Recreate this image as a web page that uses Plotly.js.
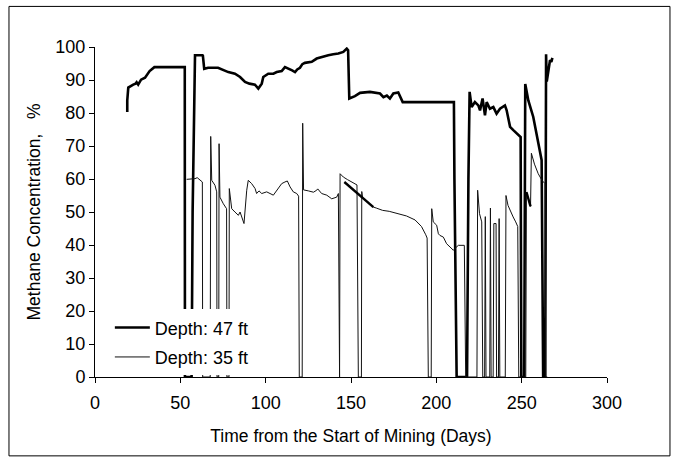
<!DOCTYPE html>
<html>
<head>
<meta charset="utf-8">
<script src="https://cdn.plot.ly/plotly-3.0.1.min.js"></script>
<style>html,body{margin:0;padding:0;background:#fff;}#chart{width:677px;height:462px;}</style>
</head>
<body>
<div id="chart"></div>
<script>
// Depth: 47 ft
var days47 = [18.9,18.9,19.5,20.5,22.4,23.8,24.4,25.3,27.0,29.3,30.9,32.0,34.8,52.6,52.7,56.6,57.2,58.6,62.9,63.2,64.0,66.3,72.1,75.2,78.1,82.0,85.0,87.9,90.5,93.7,95.7,97.7,98.6,101.5,104.5,106.5,109.4,111.3,112.5,114.3,115.5,117.2,118.5,120.1,121.5,123.0,127.0,129.9,132.8,136.7,139.6,142.6,145.5,147.5,148.3,148.5,149.0,152.3,155.3,161.1,165.0,167.0,169.0,171.0,172.8,174.8,177.7,180.3,210.3,210.6,211.9,218.0,218.8,219.5,220.7,222.6,224.6,225.6,227.1,228.5,229.5,231.4,233.4,235.3,237.3,240.2,241.2,243.2,245.1,247.1,248.6,249.4,249.8,251.5,252.1,253.9,256.8,258.8,260.7,261.7,262.6,263.8,264.3,264.7,266.6,267.4,268.0];
var ch4_47 = [80.3,83.8,87.7,88.1,88.6,88.9,89.3,88.6,90.1,90.7,91.9,92.7,93.9,93.9,0,0,50,97.5,97.5,97.4,93.4,93.7,93.7,93.1,92.4,91.9,90.9,89.4,88.9,88.6,87.4,88.9,90.9,91.9,91.9,92.4,92.7,93.9,93.6,93.4,92.9,92.4,93.2,93.7,94.8,95.2,95.5,96.5,97.0,97.5,97.8,98.0,98.5,99.5,99.0,88.0,84.4,85.1,86.1,86.4,86.1,85.9,84.8,85.3,84.4,85.9,86.2,83.3,83.3,60,0,0,60,86.4,81.8,83.3,82.3,80.8,84.4,79.3,83.3,81.3,81.8,79.8,81.3,82.3,80.8,75.8,74.8,73.8,73.2,72.7,0,0,88.8,83.8,78.8,73.8,68.7,65.7,0,0,97.8,89.5,96.0,95.5,96.7];

// Depth: 35 ft
var days35 = [53.7,57.6,58.6,59.9,61.5,62.9,63.1,67.5,67.8,68.4,70.3,71.3,71.5,72.5,72.7,73.2,75.2,77.1,77.3,78.5,78.7,80.1,82.0,84.0,85.0,85.9,87.3,88.9,89.8,91.8,93.8,94.7,96.1,97.7,100.6,104.5,107.4,109.4,111.3,112.7,114.3,116.2,118.2,119.3,119.7,121.4,121.7,122.2,125.0,128.0,129.9,130.5,132.8,135.8,138.7,141.6,142.6,143.0,143.3,143.6,145.5,148.0,150.5,152.0,153.5,154.3,156.1,156.3,156.8,160.0,163.1,164.8,168.5,172.4,177.4,182.5,187.5,191.3,193.8,194.6,195.3,197.0,197.3,198.2,200.2,201.2,202.1,204.1,206.0,208.0,210.0,211.0,212.9,216.4,217.2,223.8,224.2,225.3,226.6,227.2,228.3,228.7,229.1,231.3,231.7,232.1,233.3,233.7,235.0,235.3,236.4,236.8,237.2,240.4,240.8,242.0,243.5,245.0,246.5,247.7,248.3,252.4,252.8,255.2,255.7,257.5,259.7,262.0,263.7,264.1,265.0];
var ch4_35 = [59.9,59.9,60.1,60.4,59.8,59.1,0,0,72.9,59.6,58.1,56.1,0,0,70.7,54.5,52.5,51.0,0,0,57.1,51.0,50.0,49.0,50.0,48.5,46.5,56.6,59.6,58.6,57.1,55.6,56.4,55.6,56.1,55.1,57.1,58.6,59.1,59.4,57.6,56.1,55.6,54.8,0,0,76.9,56.7,56.4,56.0,56.6,57.0,55.6,55.1,54.0,54.5,55.6,0,0,61.6,60.6,59.8,59.0,58.6,58.2,0,0,56.2,54.3,52.9,51.5,51.2,50.5,50.2,49.6,48.8,47.6,45.6,43.1,42.1,0,0,51.0,47.0,46.0,43.4,42.9,42.4,40.4,39.4,38.4,39.0,39.9,39.9,0,0,56.6,49.5,47.0,0,0,48.6,0,0,51.2,0,0,46.5,46.5,0,0,48.0,0,0,55.0,52.0,50.0,48.5,47.0,45.6,0,0,56.0,51.7,67.8,64.5,61.6,59.5,58.6,0,0];

// Overlapping (doubly-logged) stretches of the 35 ft record, drawn heavier
var days35dup = [146.1,149.0,152.0,155.0,158.0,160.5,163.1,null,252.8,255.2];
var ch4_35dup = [59.1,57.8,56.5,55.1,53.6,52.6,51.5,null,56.0,51.7];

var xTicks = [0,50,100,150,200,250,300];
var yTicks = [0,10,20,30,40,50,60,70,80,90,100];

var FONT = 'Liberation Sans, Arial, Helvetica, sans-serif';

var traces = [
  {x: days47, y: ch4_47, type: 'scatter', mode: 'lines', name: 'Depth: 47 ft',
   legendgroup: 'a', line: {color: '#000', width: 2.6}},
  {x: days35, y: ch4_35, type: 'scatter', mode: 'lines', name: 'Depth: 35 ft',
   legendgroup: 'b', line: {color: '#111', width: 1}},
  {x: days35dup, y: ch4_35dup, type: 'scatter', mode: 'lines', name: 'Depth: 35 ft',
   legendgroup: 'b', showlegend: false, connectgaps: false, line: {color: '#000', width: 2.4}}
];

var axisCommon = {
  showline: true, linecolor: '#000', linewidth: 1,
  ticks: 'outside', ticklen: 5, tickcolor: '#000', tickwidth: 1,
  showgrid: false, zeroline: false,
  tickfont: {family: FONT, size: 18, color: '#000'}
};

var layout = {
  width: 677, height: 462,
  paper_bgcolor: '#fff', plot_bgcolor: '#fff',
  margin: {l: 95, r: 70, t: 47, b: 85},
  font: {family: FONT, size: 17.5, color: '#000'},
  xaxis: Object.assign({}, axisCommon, {
    range: [0, 300], tickvals: xTicks, ticktext: xTicks.map(String),
    ticklabelstandoff: 4,
    title: {text: 'Time from the Start of Mining (Days)', font: {family: FONT, size: 17.5, color: '#000'}, standoff: 18}
  }),
  yaxis: Object.assign({}, axisCommon, {
    range: [0, 100], tickvals: yTicks, ticktext: yTicks.map(String),
    title: {text: 'Methane Concentration,\u00A0\u00A0 %', font: {family: FONT, size: 17.5, color: '#000'}, standoff: 10}
  }),
  showlegend: true,
  legend: {
    x: 0.029, y: 0.205, xanchor: 'left', yanchor: 'top',
    bgcolor: '#fff', borderwidth: 0,
    traceorder: 'grouped', tracegroupgap: 3,
    font: {family: FONT, size: 18, color: '#000'},
    itemwidth: 35
  },
  shapes: [{
    type: 'rect', xref: 'paper', yref: 'paper',
    x0: -0.168, x1: 1.123, y0: -0.239, y1: 1.123,
    line: {color: '#000', width: 1}, fillcolor: 'rgba(0,0,0,0)', layer: 'below'
  }]
};

Plotly.newPlot('chart', traces, layout, {displayModeBar: false, staticPlot: true});
</script>
</body>
</html>
